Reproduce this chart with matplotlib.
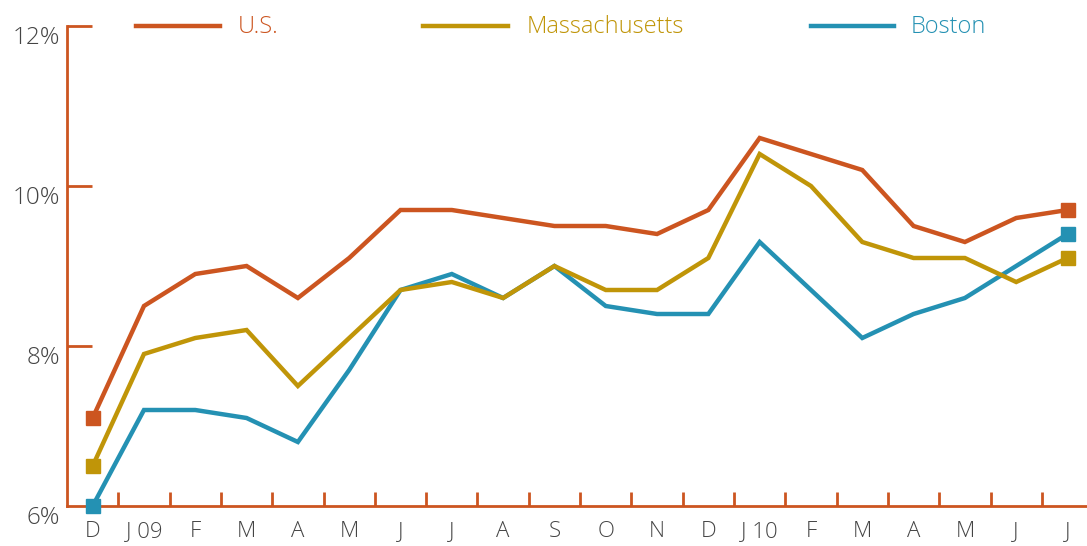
import matplotlib
matplotlib.use("Agg")
import matplotlib.pyplot as plt
from matplotlib.transforms import ScaledTranslation
import numpy as np

months = ["D", "J 09", "F", "M", "A", "M", "J", "J", "A", "S", "O", "N",
          "D", "J 10", "F", "M", "A", "M", "J", "J"]
us = [7.1, 8.5, 8.9, 9.0, 8.6, 9.1, 9.7, 9.7, 9.6, 9.5, 9.5, 9.4,
      9.7, 10.6, 10.4, 10.2, 9.5, 9.3, 9.6, 9.7]
ma = [6.5, 7.9, 8.1, 8.2, 7.5, 8.1, 8.7, 8.8, 8.6, 9.0, 8.7, 8.7,
      9.1, 10.4, 10.0, 9.3, 9.1, 9.1, 8.8, 9.1]
boston = [6.0, 7.2, 7.2, 7.1, 6.8, 7.7, 8.7, 8.9, 8.6, 9.0, 8.5, 8.4,
          8.4, 9.3, 8.7, 8.1, 8.4, 8.6, 9.0, 9.4]
yticks = [6, 8, 10, 12]
ytick_labels = ["6%", "8%", "10%", "12%"]
series_names = ["U.S.", "Massachusetts", "Boston"]

c_us = "#CC5520"
c_ma = "#C09508"
c_bos = "#2491B3"
txt = "#444444"
font = ["Open Sans", "DejaVu Sans"]

W, H = 1087, 546
fig = plt.figure(figsize=(W / 100, H / 100), dpi=100)
ax = fig.add_axes([67 / W, 40 / H, 1 - 67 / W, (506 - 26) / H])

x = np.arange(len(months))
draw_order = [(boston, c_bos), (ma, c_ma), (us, c_us)]
for vals, col in draw_order:
    ax.plot(x, vals, color=col, lw=3.2, solid_joinstyle="miter", zorder=3, clip_on=False)
    ax.plot([x[0], x[-1]], [vals[0], vals[-1]], ls="none", marker="s",
            ms=10.5, color=col, zorder=4, clip_on=False)

ax.set_xlim(-0.5, 19.38)
ax.set_ylim(6, 12)

for s in ["top", "right"]:
    ax.spines[s].set_visible(False)
for s in ["left", "bottom"]:
    ax.spines[s].set_color(c_us)
    ax.spines[s].set_linewidth(2)

# y ticks
ax.set_yticks(yticks)
ax.set_yticklabels(ytick_labels, family=font, fontsize=17.5, color=txt, fontweight="light")
ax.tick_params(axis="y", direction="in", length=18, width=2, color=c_us, pad=5)
off = ScaledTranslation(0, -9 / 100, fig.dpi_scale_trans)
for lab in ax.get_yticklabels():
    lab.set_transform(lab.get_transform() + off)
ax.yaxis.get_major_ticks()[0].tick1line.set_visible(False)

# x ticks
ax.set_xticks(x)
ax.set_xticklabels(months, family=font, fontsize=16, color=txt, fontweight="light")
ax.tick_params(axis="x", which="major", length=0, pad=11)
ax.set_xticks(np.arange(0.5, 19, 1), minor=True)
ax.tick_params(axis="x", which="minor", direction="in", length=10, width=2, color=c_us)

# legend
entries = [(136, 220, 238, series_names[0], c_us),
           (423, 508, 527, series_names[1], c_ma),
           (811, 894, 911, series_names[2], c_bos)]
for x0, x1, xt, name, col in entries:
    fig.add_artist(plt.Line2D([x0 / W, x1 / W], [1 - 26 / H, 1 - 26 / H],
                              color=col, lw=3.2, transform=fig.transFigure))
    fig.text(xt / W, 1 - 27 / H, name, color=col, fontsize=17, family=font,
             fontweight="light", va="center", ha="left")

fig.savefig("out.png", dpi=100)
